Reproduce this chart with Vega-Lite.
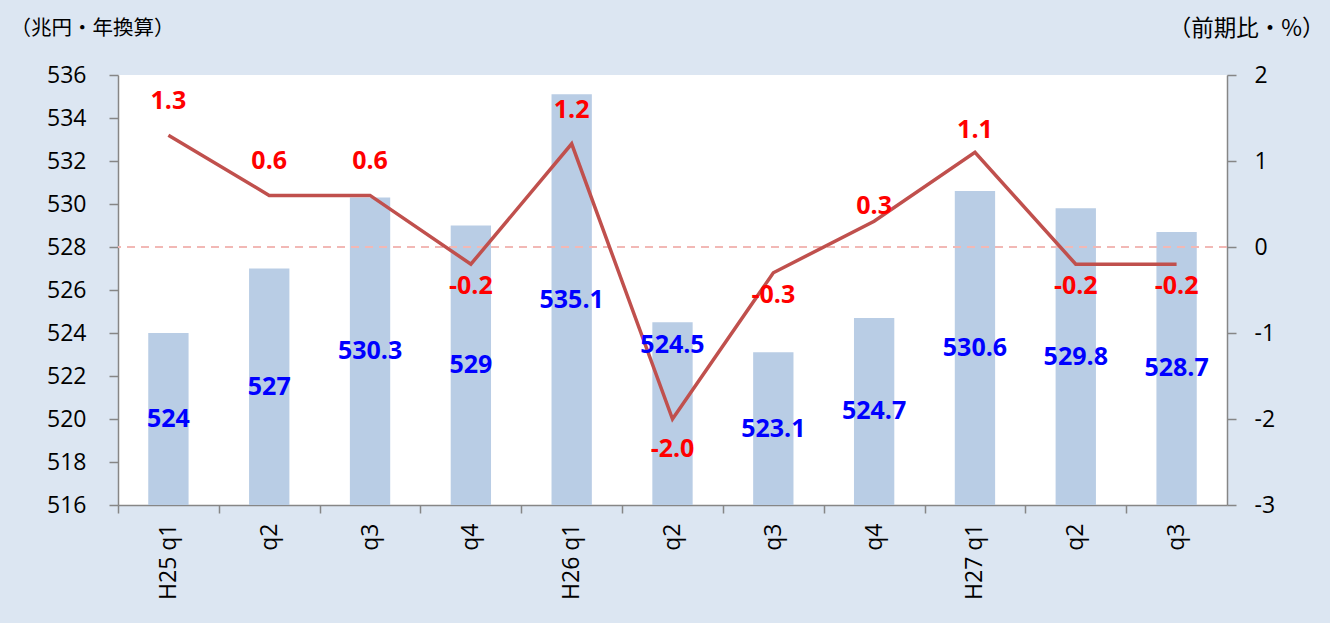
{
  "$schema": "https://vega.github.io/schema/vega-lite/v6.json",
  "width": 1109,
  "height": 430,
  "autosize": {"type": "none"},
  "padding": {"left": 118, "top": 75, "right": 103, "bottom": 118},
  "background": "#dce6f2",
  "config": {
    "view": {"stroke": null, "fill": "#ffffff"},
    "axis": {
      "labelFont": "Open Sans",
      "labelFontSize": 23,
      "labelColor": "#000000",
      "domainColor": "#868686",
      "domainWidth": 1.5,
      "tickColor": "#868686",
      "tickWidth": 1.5,
      "grid": false,
      "titleFont": "Noto Sans CJK JP",
      "titleFontSize": 20.5,
      "titleFontWeight": "normal",
      "titleColor": "#000000"
    },
    "text": {"font": "Open Sans", "fontWeight": "bold", "fontSize": 25, "baseline": "middle"}
  },
  "data": {
    "values": [
      {"key": "H25 q1", "gdp": 524, "chg": 1.3},
      {"key": "H25 q2", "gdp": 527, "chg": 0.6},
      {"key": "H25 q3", "gdp": 530.3, "chg": 0.6},
      {"key": "H25 q4", "gdp": 529, "chg": -0.2},
      {"key": "H26 q1", "gdp": 535.1, "chg": 1.2},
      {"key": "H26 q2", "gdp": 524.5, "chg": -2.0},
      {"key": "H26 q3", "gdp": 523.1, "chg": -0.3},
      {"key": "H26 q4", "gdp": 524.7, "chg": 0.3},
      {"key": "H27 q1", "gdp": 530.6, "chg": 1.1},
      {"key": "H27 q2", "gdp": 529.8, "chg": -0.2},
      {"key": "H27 q3", "gdp": 528.7, "chg": -0.2}
    ]
  },
  "transform": [
    {"calculate": "(datum.gdp + 516) / 2", "as": "gdpMid"},
    {"calculate": "(datum.chg < 0 ? '-' : '') + format(abs(datum.chg), '.1f')", "as": "chgLabel"}
  ],
  "layer": [
    {
      "layer": [
        {
          "mark": {"type": "bar", "color": "#b9cde5"},
          "encoding": {
            "x": {
              "field": "key", "type": "nominal", "sort": null,
              "scale": {"paddingInner": 0.6, "paddingOuter": 0.3},
              "axis": {
                "title": null,
                "labelAngle": -90,
                "labelExpr": "indexof(datum.value, 'q1') >= 0 ? datum.value : slice(datum.value, 4)",
                "tickSize": 8,
                "tickOffset": -50.4,
                "labelOffset": 50.4,
                "labelPadding": 10
              }
            },
            "y": {
              "field": "gdp", "type": "quantitative",
              "scale": {"domain": [516, 536], "zero": false, "nice": false},
              "axis": {
                "orient": "left",
                "values": [516, 518, 520, 522, 524, 526, 528, 530, 532, 534, 536],
                "title": "（兆円・年換算）",
                "titleAngle": 0,
                "titleAlign": "left",
                "titleBaseline": "middle",
                "titleX": -108,
                "titleY": -47,
                "tickSize": 9,
                "labelPadding": 23
              }
            },
            "y2": {"datum": 516}
          }
        },
        {
          "mark": {"type": "rule", "color": "#f2b8b5", "strokeDash": [8, 6], "strokeWidth": 1.5},
          "encoding": {"y": {"datum": 528}}
        }
      ]
    },
    {
      "layer": [
        {
          "mark": {"type": "line", "color": "#c0504d", "strokeWidth": 3.5},
          "encoding": {
            "x": {"field": "key", "type": "nominal", "sort": null},
            "y": {
              "field": "chg", "type": "quantitative",
              "scale": {"domain": [-3, 2], "nice": false},
              "axis": {
                "orient": "right",
                "values": [-3, -2, -1, 0, 1, 2],
                "labelExpr": "datum.value < 0 ? '-' + abs(datum.value) : '' + datum.value",
                "title": "（前期比・%）",
                "titleFontSize": 22.5,
                "titleAngle": 0,
                "titleAlign": "right",
                "titleBaseline": "middle",
                "titleX": 97,
                "titleY": -47,
                "tickSize": 9,
                "labelPadding": 18
              }
            }
          }
        },
        {
          "transform": [{"filter": {"field": "key", "oneOf": ["H25 q1", "H25 q2", "H25 q3", "H26 q1"]}}],
          "mark": {"type": "text", "color": "#ff0000", "dy": -34},
          "encoding": {
            "x": {"field": "key", "type": "nominal", "sort": null},
            "y": {"field": "chg", "type": "quantitative"},
            "text": {"field": "chgLabel", "type": "nominal"}
          }
        },
        {
          "transform": [{"filter": {"field": "key", "equal": "H26 q4"}}],
          "mark": {"type": "text", "color": "#ff0000", "dy": -15},
          "encoding": {
            "x": {"field": "key", "type": "nominal", "sort": null},
            "y": {"field": "chg", "type": "quantitative"},
            "text": {"field": "chgLabel", "type": "nominal"}
          }
        },
        {
          "transform": [{"filter": {"field": "key", "equal": "H27 q1"}}],
          "mark": {"type": "text", "color": "#ff0000", "dy": -22},
          "encoding": {
            "x": {"field": "key", "type": "nominal", "sort": null},
            "y": {"field": "chg", "type": "quantitative"},
            "text": {"field": "chgLabel", "type": "nominal"}
          }
        },
        {
          "transform": [{"filter": "datum.chg < 0 && datum.key != 'H26 q2'"}],
          "mark": {"type": "text", "color": "#ff0000", "dy": 22},
          "encoding": {
            "x": {"field": "key", "type": "nominal", "sort": null},
            "y": {"field": "chg", "type": "quantitative"},
            "text": {"field": "chgLabel", "type": "nominal"}
          }
        },
        {
          "transform": [{"filter": {"field": "key", "equal": "H26 q2"}}],
          "mark": {"type": "text", "color": "#ff0000", "dy": 30},
          "encoding": {
            "x": {"field": "key", "type": "nominal", "sort": null},
            "y": {"field": "chg", "type": "quantitative"},
            "text": {"field": "chgLabel", "type": "nominal"}
          }
        }
      ]
    },
    {
      "layer": [
        {
          "transform": [{"filter": "datum.key != 'H26 q2'"}],
          "mark": {"type": "text", "color": "#0000ff"},
          "encoding": {
            "x": {"field": "key", "type": "nominal", "sort": null},
            "y": {"field": "gdpMid", "type": "quantitative", "scale": {"domain": [516, 536], "zero": false, "nice": false}, "axis": null},
            "text": {"field": "gdp", "type": "quantitative"}
          }
        },
        {
          "transform": [{"filter": {"field": "key", "equal": "H26 q2"}}],
          "mark": {"type": "text", "color": "#0000ff", "dy": 23},
          "encoding": {
            "x": {"field": "key", "type": "nominal", "sort": null},
            "y": {"field": "gdp", "type": "quantitative", "scale": {"domain": [516, 536], "zero": false, "nice": false}, "axis": null},
            "text": {"field": "gdp", "type": "quantitative"}
          }
        }
      ]
    }
  ],
  "resolve": {"scale": {"y": "independent"}}
}
